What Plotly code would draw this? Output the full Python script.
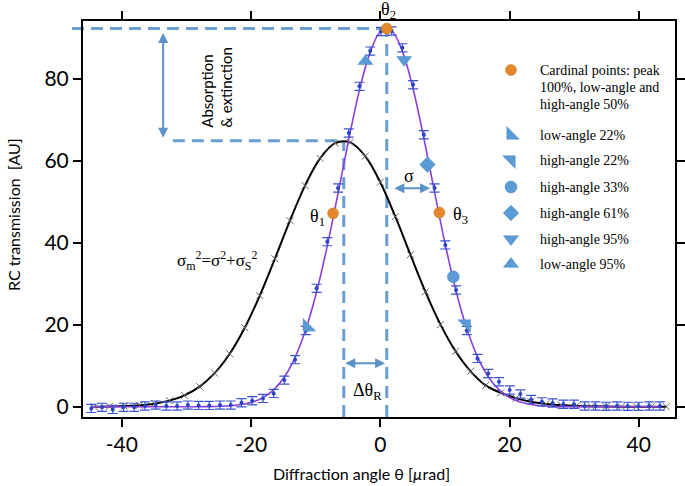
import plotly.graph_objects as go

# ---------------- data ----------------
theta_data = [-44.72, -43.06, -41.40, -39.74, -38.08, -36.42, -34.76, -33.10, -31.44, -29.78,
              -28.12, -26.46, -24.80, -23.14, -21.48, -19.82, -18.16, -16.50, -14.84, -13.18,
              -11.52, -9.86, -8.20, -6.54, -4.88, -3.22, -1.56, 0.10, 1.76, 3.42,
              5.08, 6.74, 8.40, 10.06, 11.72, 13.38, 15.04, 16.70, 18.36, 20.02,
              21.68, 23.34, 25.00, 26.66, 28.32, 29.98, 31.64, 33.30, 34.96, 36.62,
              38.28, 39.94, 41.60, 43.26]
rc_data = [-0.4, -0.15, -0.65, -0.15, -0.15, 0.17, 0.41, 0.17, 0.17, 0.41,
           0.33, 0.33, 0.41, 0.41, 0.98, 1.47, 2.04, 3.26, 6.5, 11.5,
           18.6, 28.9, 40.3, 53.4, 66.8, 78.2, 86.8, 91.6, 91.7, 87.6,
           78.6, 66.4, 53.4, 39.5, 28.5, 18.6, 11.8, 8.1, 6.1, 4.1,
           3.1, 1.8, 1.2, 0.9, 0.6, 0.6, 0.2, 0.2, 0.1, 0.2,
           0.1, 0.1, 0.2, 0.2]
rc_err = 1.0

# purple fitted curve (sampled at the data angles)
fit_purple = [0.0, 0.0, 0.0, 0.0, 0.0, 0.0, 0.0, 0.0, 0.0, 0.0,
              0.01, 0.04, 0.11, 0.25, 0.54, 1.13, 2.22, 4.13, 7.25, 12.04,
              18.89, 28.01, 39.28, 52.07, 65.25, 77.29, 86.55, 91.62, 91.68, 86.73,
              77.56, 65.56, 52.39, 39.58, 28.24, 19.07, 12.17, 7.34, 4.19, 2.26,
              1.15, 0.55, 0.25, 0.11, 0.04, 0.01, 0.0, 0.0, 0.0, 0.0,
              0.0, 0.0, 0.0, 0.0]

# black (measured mosaic) curve with x markers
theta_black = [-44.27, -41.94, -39.61, -37.28, -34.95, -32.62, -30.29, -27.96, -25.63, -23.30,
               -20.97, -18.64, -16.31, -13.98, -11.65, -9.32, -6.99, -4.66, -2.33, 0.0,
               2.33, 4.66, 6.99, 9.32, 11.65, 13.98, 16.31, 18.64, 20.97, 23.30,
               25.63, 27.96, 30.29, 32.62, 34.95, 37.28, 39.61, 41.94, 44.27]
rc_black = [0.03, 0.07, 0.16, 0.36, 0.75, 1.49, 2.79, 4.92, 8.21, 12.94,
            19.28, 27.14, 36.12, 45.42, 53.98, 60.62, 64.34, 64.54, 61.17, 54.80,
            46.39, 37.12, 28.06, 20.05, 13.54, 8.65, 5.21, 3.4, 2.1, 1.2,
            0.7, 0.4, 0.2, 0.1, 0.05, 0.03, 0.02, 0.01, 0.01]

# cardinal points (theta1, theta2, theta3)
card_theta = [-7.3, 1.0, 9.15]
card_rc = [47.2, 92.3, 47.4]

# special points
special_names = ["low-angle 22%", "high-angle 22%", "high-angle 33%",
                  "high-angle 61%", "high-angle 95%", "low-angle 95%"]
special_symbols = ["triangle-sw", "triangle-ne", "circle", "diamond", "triangle-down", "triangle-up"]
special_sizes = [14, 14, 12, 12, 13, 13]
special_theta = [-11.3, 13.3, 11.3, 7.3, 3.7, -2.3]
special_rc = [19.5, 20.2, 31.7, 59.1, 84.7, 84.3]

legend_cardinal_lines = ["Cardinal points: peak", "100%, low-angle and", "high-angle 50%"]

# reference levels
peak_theta, peak_rc = 1.0, 92.3
black_peak_theta, black_peak_rc = -5.65, 64.9

x_tickvals = [-40, -20, 0, 20, 40]
x_ticktext = ["-40", "-20", "0", "20", "40"]
y_tickvals = [0, 20, 40, 60, 80]
y_ticktext = ["0", "20", "40", "60", "80"]

XR = [-46.0, 45.6]
YR = [-2.5, 94.15]

BLUE = "#5b9bd5"
BLUE_EDGE = "#4a86c2"
ORANGE = "#e3882c"
DASH_C = "#6b9ed0"
ARROW_C = "#5d92c9"
SERIF = "Liberation Serif, Times New Roman, serif"
SANS = "Lato, Open Sans, sans-serif"

# plot-area geometry in pixels
W, H = 685, 486
ML, MR, MT, MB = 83, 10, 21, 69
PW, PH = W - ML - MR, H - MT - MB

def px_to_paper_x(px):
    return (px - ML) / PW
def px_to_paper_y(py):
    return (H - MB - py) / PH

fig = go.Figure()

# black curve + x markers
fig.add_trace(go.Scatter(x=theta_black, y=rc_black, mode="lines+markers",
                         line=dict(color="black", width=2, shape="spline", smoothing=1.0),
                         marker=dict(symbol="x-thin", size=7, line=dict(color="#666", width=1)),
                         showlegend=False, hoverinfo="skip"))

# purple fit
fig.add_trace(go.Scatter(x=theta_data, y=fit_purple, mode="lines",
                         line=dict(color="#8b3fd8", width=1.6, shape="spline", smoothing=1.0),
                         showlegend=False, hoverinfo="skip"))

# data with error bars
fig.add_trace(go.Scatter(x=theta_data, y=rc_data, mode="markers",
                         marker=dict(color="#2a44c6", size=4),
                         error_y=dict(type="constant", value=rc_err, color="#3a55d0",
                                      thickness=1.2, width=5),
                         showlegend=False, hoverinfo="skip"))

# special points
for nm, sym, sz, tx, ty in zip(special_names, special_symbols, special_sizes, special_theta, special_rc):
    fig.add_trace(go.Scatter(x=[tx], y=[ty], mode="markers", name=nm,
                             marker=dict(symbol=sym, size=sz, color=BLUE,
                                         line=dict(color=BLUE_EDGE, width=0.5)),
                             showlegend=False, hoverinfo="skip", cliponaxis=False))

# cardinal points
fig.add_trace(go.Scatter(x=card_theta, y=card_rc, mode="markers",
                         marker=dict(symbol="circle", size=11, color=ORANGE,
                                     line=dict(color="#c97420", width=0.5)),
                         showlegend=False, hoverinfo="skip", cliponaxis=False))

# ---------------- legend (pixel-space overlay axis) ----------------
leg_x_marker = 511
leg_x_text = 538
leg_y_card = [70, 87, 104]
leg_y_items = [135, 160, 187, 213, 239, 264]

fig.add_trace(go.Scatter(x=[leg_x_marker], y=[leg_y_card[0]], xaxis="x2", yaxis="y2",
                         mode="markers", marker=dict(symbol="circle", size=11, color=ORANGE,
                                                      line=dict(color="#c97420", width=0.5)),
                         showlegend=False, hoverinfo="skip"))
for sym, sz, yy in zip(special_symbols, special_sizes, leg_y_items):
    fig.add_trace(go.Scatter(x=[leg_x_marker], y=[yy], xaxis="x2", yaxis="y2",
                             mode="markers", marker=dict(symbol=sym, size=sz, color=BLUE,
                                                          line=dict(color=BLUE_EDGE, width=0.5)),
                             showlegend=False, hoverinfo="skip"))

annotations = []
for txt, yy in zip(legend_cardinal_lines, leg_y_card):
    annotations.append(dict(x=leg_x_text, y=yy, xref="x2", yref="y2", text=txt, showarrow=False,
                            xanchor="left", yanchor="middle", font=dict(family=SERIF, size=14, color="black")))
for txt, yy in zip(special_names, leg_y_items):
    annotations.append(dict(x=leg_x_text, y=yy, xref="x2", yref="y2", text=txt, showarrow=False,
                            xanchor="left", yanchor="middle", font=dict(family=SERIF, size=14, color="black")))

# ---------------- text labels ----------------
lab_font = dict(family=SERIF, size=18, color="black")
annotations += [
    dict(x=-9.7, y=46.3, text="θ<sub>1</sub>", showarrow=False, font=lab_font),
    dict(x=1.3, y=px_to_paper_y(10), yref="paper", text="θ<sub>2</sub>", showarrow=False,
         yanchor="middle", font=lab_font),
    dict(x=12.4, y=46.8, text="θ<sub>3</sub>", showarrow=False, font=lab_font),
    dict(x=4.4, y=56.4, text="σ", showarrow=False, font=lab_font),
    dict(x=-2.0, y=3.8, text="Δθ<sub>R</sub>", showarrow=False, font=lab_font),
    dict(x=-25.2, y=35.8, text="σ<sub>m</sub><sup>2</sup>=σ<sup>2</sup>+σ<sub>S</sub><sup>2</sup>",
         showarrow=False, font=dict(family=SERIF, size=17, color="black")),
    dict(x=-25.4, y=77.9, text="Absorption<br>& extinction", showarrow=False, textangle=-90,
         align="left", font=dict(family=SANS, size=15, color="black")),
]

# arrows (double headed)
def dbl_arrow(x0, y0, x1, y1):
    return dict(x=x1, y=y1, ax=x0, ay=y0, xref="x", yref="y", axref="x", ayref="y",
                text="", showarrow=True, arrowhead=2, arrowside="end+start", arrowsize=1,
                arrowwidth=2, arrowcolor=ARROW_C, standoff=0, startstandoff=0)

annotations += [
    dbl_arrow(-33.6, 65.3, -33.6, 91.2),
    dbl_arrow(1.95, 53.3, 7.7, 53.3),
    dbl_arrow(black_peak_theta, 10.6, 0.75, 10.6),
]

# axis titles
annotations += [
    dict(x=px_to_paper_x(361), y=px_to_paper_y(473), xref="paper", yref="paper",
         yanchor="middle", xanchor="center",
         text="Diffraction angle θ [<i>µ</i>rad]", showarrow=False,
         font=dict(family=SANS, size=16, color="black")),
    dict(x=px_to_paper_x(13), y=px_to_paper_y(215), xref="paper", yref="paper", textangle=-90,
         xanchor="center", yanchor="middle",
         text="RC transmission  [AU]", showarrow=False,
         font=dict(family=SANS, size=16, color="black")),
]

# ---------------- dashed guide lines ----------------
dash = dict(color=DASH_C, width=3, dash="12px,7px")
px_left = 72
def xpaper(v):
    return (v - XR[0]) / (XR[1] - XR[0])
def ypaper(v):
    return (v - YR[0]) / (YR[1] - YR[0])

shapes = [
    dict(type="line", xref="paper", yref="paper", x0=px_to_paper_x(px_left), x1=xpaper(peak_theta),
         y0=ypaper(peak_rc), y1=ypaper(peak_rc), line=dash, layer="below"),
    dict(type="line", xref="x", yref="y", x0=-32.1, x1=black_peak_theta,
         y0=black_peak_rc, y1=black_peak_rc, line=dash, layer="below"),
    dict(type="line", xref="x", yref="paper", x0=black_peak_theta, x1=black_peak_theta,
         y0=0, y1=ypaper(black_peak_rc), line=dash, layer="below"),
    dict(type="line", xref="x", yref="paper", x0=peak_theta, x1=peak_theta,
         y0=0, y1=ypaper(peak_rc), line=dash, layer="below"),
]

axis_common = dict(showgrid=False, zeroline=False, showline=True, linecolor="black", linewidth=2,
                   ticks="outside", ticklen=8, tickwidth=2, tickcolor="black", mirror="allticks",
                   tickfont=dict(family=SANS, size=21, color="black"), automargin=False)

fig.update_layout(
    width=W, height=H,
    margin=dict(l=ML, r=MR, t=MT, b=MB, autoexpand=False),
    paper_bgcolor="white", plot_bgcolor="white",
    showlegend=False,
    xaxis=dict(range=XR, tickvals=x_tickvals, ticktext=x_ticktext, **axis_common),
    yaxis=dict(range=YR, tickvals=y_tickvals, ticktext=y_ticktext, **axis_common),
    xaxis2=dict(range=[ML, W - MR], overlaying="x", anchor="y2", visible=False),
    yaxis2=dict(range=[H - MB, MT], overlaying="y", anchor="x2", visible=False),
    annotations=annotations,
    shapes=shapes,
)

fig.write_html("out.html", config={"displayModeBar": False},
               post_script="document.body.style.margin='0';document.body.style.padding='0';")
